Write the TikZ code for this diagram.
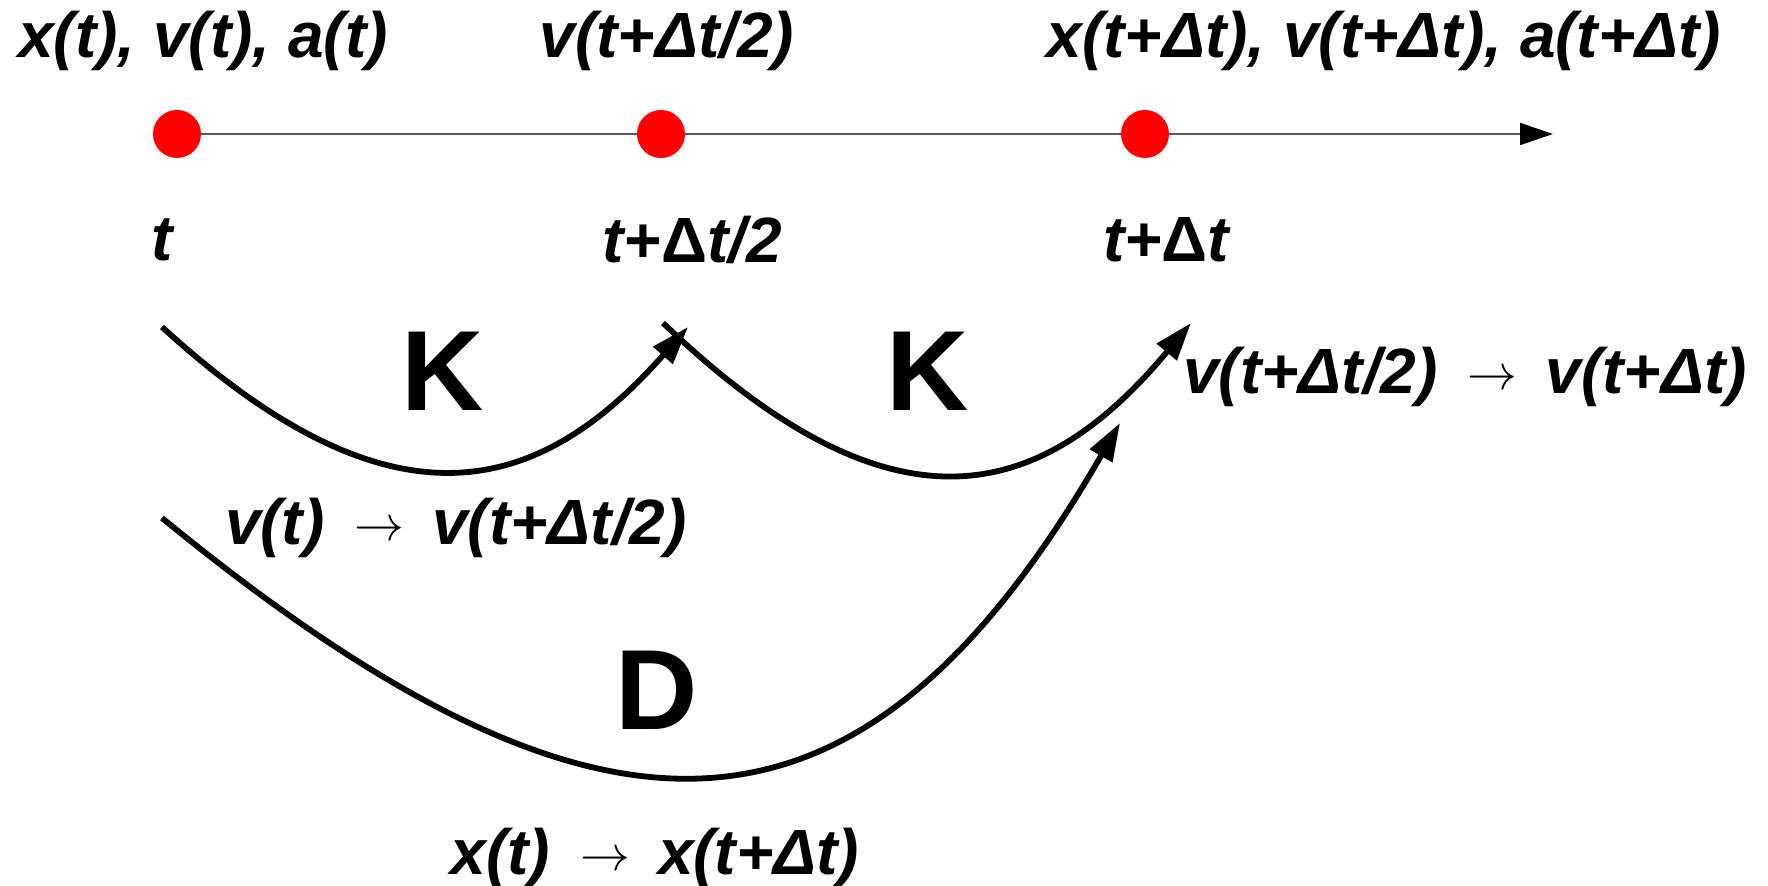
\documentclass[tikz,border=0pt]{standalone}
\usepackage{fontspec}
\setmainfont{Liberation Sans}
\usetikzlibrary{arrows.meta}
\newcommand{\arr}{\hspace{15pt}\raisebox{2pt}{\fontsize{24}{24}\selectfont$\rightarrow$}\hspace{14pt}}
\newcommand{\uD}{{\upshape Δ}}
\tikzset{
  lbl/.style={font=\fontsize{32}{38}\selectfont\bfseries\itshape, inner sep=0pt},
  big/.style={font=\fontsize{57}{60}\selectfont\bfseries, inner sep=0pt},
  dot/.style={circle, fill=red, inner sep=0pt, minimum size=24pt},
  axis/.style={gray!70!black, line width=0.9pt, -{Triangle[length=16.5pt, width=11pt, color=black]}},
  move/.style={line width=2.9pt, -{Triangle[length=19pt, width=12.5pt]}}
}

\begin{document}
\begin{tikzpicture}[x=0.5pt, y=-0.5pt]
	\useasboundingbox (0,0) rectangle (1768,886);
	% time axis
	\coordinate (t0) at (177,134);
	\coordinate (t1) at (661,134);
	\coordinate (t2) at (1145,134);
	\coordinate (tip) at (1553,134);
	\draw[axis] (t0) -- (tip);
	\foreach \p/\name in {t0/d0, t1/d1, t2/d2} {
		\node[dot] (\name) at (\p) {};
	}
	% state above, time below
	\node[lbl] (s0) at (203,41) {x(t), v(t), a(t)};
	\node[lbl] (s1) at (667,41) {v(t+Δt/2)};
	\node[lbl] (s2) at (1384,41) {x(t+Δt), v(t+Δt), a(t+Δt)};
	\node[lbl] (l0) at (162,240) {t};
	\node[lbl] (l1) at (692,240) {t+\uD t/2};
	\node[lbl] (l2) at (1166,240) {t+\uD t};

	% kick, kick, drift
	\coordinate (k1s) at (162,327);
	\coordinate (k1e) at (688,327);
	\coordinate (k2s) at (663,323);
	\coordinate (k2e) at (1191,323);
	\coordinate (ds) at (162,518);
	\coordinate (de) at (1120,423);
	\draw[move] (k1s) .. controls +(230,210) and +(-150,170) .. (k1e);
	\draw[move] (k2s) .. controls +(230,220) and +(-150,180) .. (k2e);
	\draw[move] (ds) .. controls +(440,360) and +(-260,450) .. (de);

	\node[big] (K1) at (443,371) {K};
	\node[big] (K2) at (928,371) {K};
	\node[big] (D) at (657,690) {D};
	\node[lbl] (m1) at (456,528) {v(t)\arr v(t+Δt/2)};
	\node[lbl] (m2) at (1465,377) {v(t+Δt/2)\arr v(t+Δt)};
	\node[lbl] (m3) at (655,858) {x(t)\arr x(t+Δt)};
\end{tikzpicture}
\end{document}
